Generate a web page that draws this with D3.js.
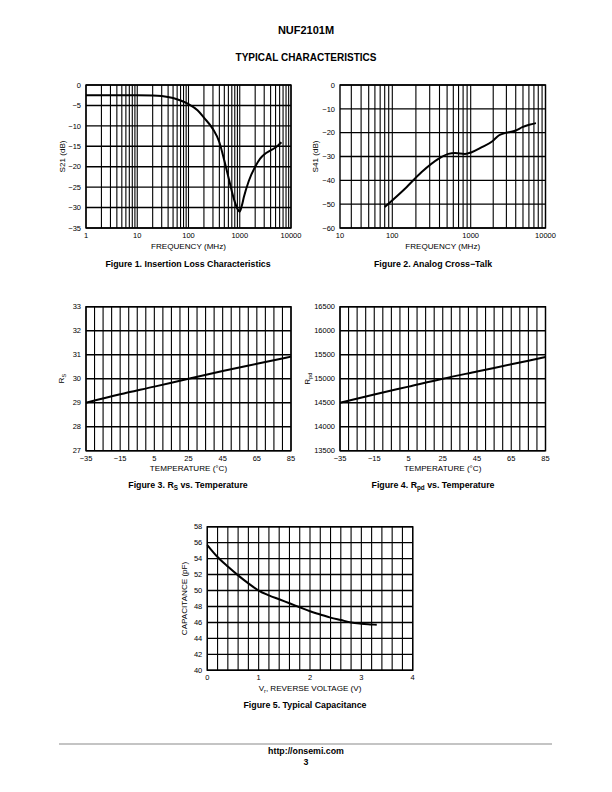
<!DOCTYPE html>
<html><head><meta charset="utf-8">
<script src="https://cdn.jsdelivr.net/npm/d3@7"></script>
<style>
body{margin:0;background:#fff}
svg{display:block}
text{font-family:"Liberation Sans",Arial,Helvetica,sans-serif;fill:#000}
</style>
</head><body>
<svg id="page" width="612" height="792"></svg>
<script>
// ---------------- DATA ----------------
// Figure 1: Insertion loss
const fig1Freq = [1, 10, 20, 30, 50, 70, 100, 150, 200, 300, 400, 500, 600, 700, 800, 900, 1000, 1100, 1200, 1500, 2000, 2500, 3000, 4000, 5000, 6500];
const fig1S21  = [-2.5, -2.5, -2.55, -2.7, -3.2, -3.8, -4.7, -6.2, -8.0, -10.8, -14.0, -18.5, -22.5, -26.0, -28.6, -30.3, -31.0, -29.5, -27.5, -23.5, -20.0, -18.0, -17.0, -16.0, -15.3, -14.0];
const fig1XTicks = [1, 10, 100, 1000, 10000];
const fig1YTicks = [0, -5, -10, -15, -20, -25, -30, -35];

// Figure 2: Analog cross-talk
const fig2Freq = [80, 145, 237, 387, 518, 632, 846, 1030, 1410, 1930, 2370, 2920, 4000, 4900, 6050, 7450];
const fig2S41  = [-51.2, -43.5, -36.5, -31.0, -28.9, -28.5, -28.9, -28.2, -26.1, -23.7, -21.2, -20.1, -19.1, -17.7, -16.7, -16.0];
const fig2XTicks = [10, 100, 1000, 10000];
const fig2YTicks = [0, -10, -20, -30, -40, -50, -60];

// Figure 3: RS vs temperature
const tempTicks = [-35, -15, 5, 25, 45, 65, 85];
const fig3Temp = [-35, -15, 5, 25, 45, 65, 85];
const fig3Rs   = [29.0, 29.35, 29.67, 30.0, 30.32, 30.62, 30.92];
const fig3YTicks = [27, 28, 29, 30, 31, 32, 33];

// Figure 4: Rpd vs temperature
const fig4Temp = [-35, -15, 5, 25, 45, 65, 85];
const fig4Rpd  = [14500, 14670, 14835, 15000, 15150, 15300, 15450];
const fig4YTicks = [13500, 14000, 14500, 15000, 15500, 16000, 16500];

// Figure 5: capacitance vs reverse voltage
const fig5Volt = [0, 0.2, 0.4, 0.6, 0.8, 1.0, 1.2, 1.4, 1.6, 1.8, 2.0, 2.2, 2.4, 2.6, 2.8, 3.0, 3.2, 3.3];
const fig5Cap  = [55.7, 54.2, 53.0, 51.9, 50.9, 50.0, 49.4, 48.9, 48.4, 47.9, 47.4, 47.0, 46.6, 46.3, 46.0, 45.85, 45.75, 45.7];
const fig5XTicks = [0, 1, 2, 3, 4];
const fig5YTicks = [40, 42, 44, 46, 48, 50, 52, 54, 56, 58];

// ---------------- DRAWING ----------------
const svg = d3.select("#page");
const fmt = v => (v < 0 ? "\u2212" + Math.abs(v) : String(v));

function logGrid(lo, hi) {
  const out = [];
  for (let d = lo; d < hi; d *= 10) for (let k = 1; k < 10; k++) out.push(d * k);
  out.push(hi);
  return out;
}
function stepGrid(lo, hi, step) {
  const out = [];
  for (let v = lo; v <= hi + 1e-9; v += step) out.push(+v.toFixed(6));
  return out;
}

function panel(o) {
  const g = svg.append("g");
  const rng = o.x.range();
  const xa = o.frameX ? o.frameX[0] : rng[0];
  const xb = o.frameX ? o.frameX[1] : rng[rng.length - 1];
  const [ya, yb] = [o.y.range()[0], o.y.range()[1]]; // bottom, top
  const xPos = d => Math.max(xa, Math.min(xb, o.x(d)));
  const grid = o.xGrid.filter(d => o.x(d) >= xa - 0.5 && o.x(d) <= xb + 0.5);
  g.selectAll(".vg").data(grid).join("line")
    .attr("x1", d => o.x(d)).attr("x2", d => o.x(d))
    .attr("y1", ya).attr("y2", yb)
    .attr("stroke", "#000").attr("stroke-width", 1.1);
  g.selectAll(".hg").data(o.yGrid).join("line")
    .attr("y1", d => o.y(d)).attr("y2", d => o.y(d))
    .attr("x1", xa).attr("x2", xb)
    .attr("stroke", "#000").attr("stroke-width", 1.4);
  g.append("rect").attr("x", xa).attr("y", yb).attr("width", xb - xa).attr("height", ya - yb)
    .attr("fill", "none").attr("stroke", "#000").attr("stroke-width", 1.4);
  g.selectAll(".yt").data(o.yTicks).join("text")
    .attr("x", xa - 5).attr("y", d => o.y(d) + 2.7)
    .attr("text-anchor", "end").attr("font-size", 7.5)
    .text(d => fmt(d));
  g.selectAll(".xt").data(o.xTicks).join("text")
    .attr("x", d => xPos(d)).attr("y", ya + 10)
    .attr("text-anchor", "middle").attr("font-size", 7.5)
    .text(d => fmt(d));
  const xt = g.append("text").attr("x", (xa + xb) / 2).attr("y", ya + 20.5)
    .attr("text-anchor", "middle").attr("font-size", 8.1);
  o.xTitle(xt);
  const yt = g.append("text")
    .attr("transform", `translate(${o.yTitleX},${(ya + yb) / 2}) rotate(-90)`)
    .attr("text-anchor", "middle").attr("font-size", 8.1);
  o.yTitle(yt);
  const line = d3.line().x(d => o.x(d[0])).y(d => o.y(d[1])).curve(d3.curveMonotoneX);
  g.append("path").datum(d3.zip(o.xs, o.ys)).attr("d", line)
    .attr("fill", "none").attr("stroke", "#000").attr("stroke-width", 2).attr("stroke-linejoin", "round");
  const cap = g.append("text").attr("x", o.capX).attr("y", o.capY)
    .attr("text-anchor", "middle").attr("font-size", 8.8).attr("font-weight", "bold");
  o.caption(cap);
}

const plain = s => t => t.text(s);

// Figure 1
panel({
  x: d3.scaleLog().domain([1, 10000]).range([86, 291]),
  y: d3.scaleLinear().domain([-35, 0]).range([228, 85]),
  xGrid: logGrid(1, 10000), yGrid: fig1YTicks,
  xTicks: fig1XTicks, yTicks: fig1YTicks,
  xs: fig1Freq, ys: fig1S21,
  xTitle: plain("FREQUENCY (MHz)"),
  yTitle: plain("S21 (dB)"), yTitleX: 65,
  caption: plain("Figure 1. Insertion Loss Characteristics"), capX: 188, capY: 267
});

// Figure 2 (the printed axis has a shortened first decade)
panel({
  x: d3.scaleLog().domain([10, 100, 1000, 10000]).range([313.9, 392.3, 470.7, 545.5]),
  frameX: [340, 545.5],
  y: d3.scaleLinear().domain([-60, 0]).range([228, 85]),
  xGrid: logGrid(10, 10000), yGrid: fig2YTicks,
  xTicks: fig2XTicks, yTicks: fig2YTicks,
  xs: fig2Freq, ys: fig2S41,
  xTitle: plain("FREQUENCY (MHz)"),
  yTitle: plain("S41 (dB)"), yTitleX: 318,
  caption: plain("Figure 2. Analog Cross\u2212Talk"), capX: 433, capY: 267
});

// Figure 3
panel({
  x: d3.scaleLinear().domain([-35, 85]).range([86, 291]),
  y: d3.scaleLinear().domain([27, 33]).range([450.7, 306.7]),
  xGrid: stepGrid(-35, 85, 5), yGrid: fig3YTicks,
  xTicks: tempTicks, yTicks: fig3YTicks,
  xs: fig3Temp, ys: fig3Rs,
  xTitle: plain("TEMPERATURE (\u00B0C)"),
  yTitle: t => { t.append("tspan").text("R"); t.append("tspan").attr("font-size", 5.5).attr("dy", 2).text("S"); },
  yTitleX: 64,
  caption: t => { t.append("tspan").text("Figure 3. R"); t.append("tspan").attr("font-size", 6.3).attr("dy", 2).text("S"); t.append("tspan").attr("dy", -2).text(" vs. Temperature"); },
  capX: 188, capY: 488
});

// Figure 4
panel({
  x: d3.scaleLinear().domain([-35, 85]).range([340, 545.5]),
  y: d3.scaleLinear().domain([13500, 16500]).range([450.7, 306.7]),
  xGrid: stepGrid(-35, 85, 5), yGrid: fig4YTicks,
  xTicks: tempTicks, yTicks: fig4YTicks,
  xs: fig4Temp, ys: fig4Rpd,
  xTitle: plain("TEMPERATURE (\u00B0C)"),
  yTitle: t => { t.append("tspan").text("R"); t.append("tspan").attr("font-size", 5.5).attr("dy", 2).text("pd"); },
  yTitleX: 310,
  caption: t => { t.append("tspan").text("Figure 4. R"); t.append("tspan").attr("font-size", 6.3).attr("dy", 2).text("pd"); t.append("tspan").attr("dy", -2).text(" vs. Temperature"); },
  capX: 433, capY: 488
});

// Figure 5
panel({
  x: d3.scaleLinear().domain([0, 4]).range([207.3, 412.7]),
  y: d3.scaleLinear().domain([40, 58]).range([670.3, 526.7]),
  xGrid: stepGrid(0, 4, 0.2), yGrid: fig5YTicks,
  xTicks: fig5XTicks, yTicks: fig5YTicks,
  xs: fig5Volt, ys: fig5Cap,
  xTitle: t => { t.append("tspan").text("V"); t.append("tspan").attr("font-size", 5.5).attr("dy", 2).text("r"); t.append("tspan").attr("dy", -2).text(", REVERSE VOLTAGE (V)"); },
  yTitle: plain("CAPACITANCE (pF)"), yTitleX: 187,
  caption: plain("Figure 5. Typical Capacitance"), capX: 305, capY: 708
});

// Page header / footer
svg.append("text").attr("x", 306).attr("y", 34).attr("text-anchor", "middle")
  .attr("font-size", 11).attr("font-weight", "bold").text("NUF2101M");
svg.append("text").attr("x", 306).attr("y", 61).attr("text-anchor", "middle")
  .attr("font-size", 10).attr("font-weight", "bold").text("TYPICAL CHARACTERISTICS");
svg.append("line").attr("x1", 59).attr("x2", 552).attr("y1", 744).attr("y2", 744)
  .attr("stroke", "#b0b0b0").attr("stroke-width", 1.5);
svg.append("text").attr("x", 306).attr("y", 754).attr("text-anchor", "middle")
  .attr("font-size", 8.8).attr("font-weight", "bold").text("http://onsemi.com");
svg.append("text").attr("x", 306).attr("y", 765).attr("text-anchor", "middle")
  .attr("font-size", 8.8).attr("font-weight", "bold").text("3");
</script>
</body></html>
